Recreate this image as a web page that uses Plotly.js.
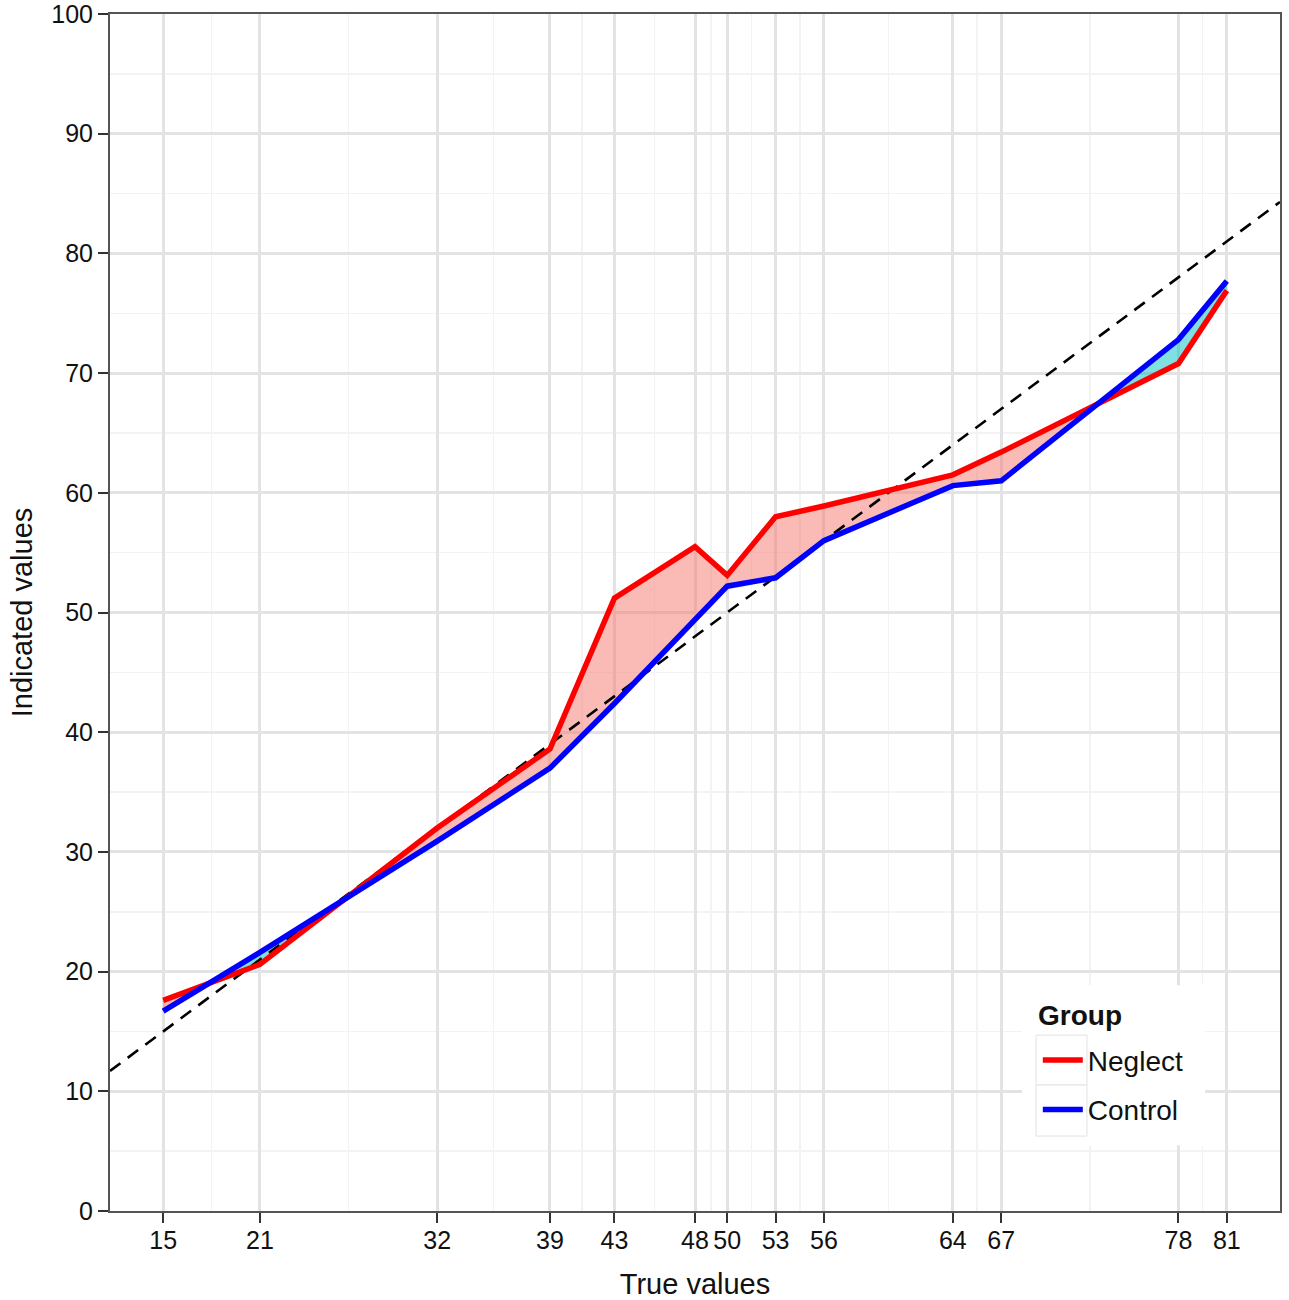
<!DOCTYPE html>
<html>
<head>
<meta charset="utf-8">
<script src="https://cdn.plot.ly/plotly-3.0.1.min.js"></script>
<style>html,body{margin:0;padding:0;background:#fff;}#chart{width:1289px;height:1300px;}</style>
</head>
<body>
<div id="chart"></div>
<script>
// ---- data ----
var trueValues = [15, 21, 32, 39, 43, 48, 50, 53, 56, 64, 67, 78, 81];
var neglect    = [17.6, 20.6, 32.0, 38.6, 51.2, 55.5, 53.1, 58.0, 58.9, 61.5, 63.4, 70.8, 76.9];
var control    = [16.7, 21.6, 30.9, 37.0, 42.4, 49.4, 52.2, 52.9, 56.0, 60.6, 61.0, 72.8, 77.7];
var xTickLabels = ["15","21","32","39","43","48","50","53","56","64","67","78","81"];
var yTicks = [0,10,20,30,40,50,60,70,80,90,100];
var seriesNames = ["Neglect", "Control"];
var legendTitle = "Group";

// ---- scales ----
var xSpan = trueValues[trueValues.length-1] - trueValues[0];
var xRange = [trueValues[0] - 0.05*xSpan, trueValues[trueValues.length-1] + 0.05*xSpan];
var yRange = [0, 100];

// minor breaks: midpoints between major breaks (ggplot style)
var xMinor = [];
for (var i = 0; i < trueValues.length-1; i++) xMinor.push((trueValues[i]+trueValues[i+1])/2);
var yMinor = [];
for (var j = 0; j < yTicks.length-1; j++) yMinor.push((yTicks[j]+yTicks[j+1])/2);

// ---- fill regions between the two series, split at crossings ----
function buildRegions(x, a, b) {
  var regions = [];
  var cur = null;
  function start(sign) { cur = {sign: sign, xs: [], top: [], bot: []}; }
  function push(xx, ya, yb) { cur.xs.push(xx); cur.top.push(ya); cur.bot.push(yb); }
  for (var i = 0; i < x.length; i++) {
    var d = a[i] - b[i];
    var s = d >= 0 ? 1 : -1;
    if (cur === null) { start(s); push(x[i], a[i], b[i]); continue; }
    if (s !== cur.sign) {
      var d0 = a[i-1] - b[i-1];
      var t = d0 / (d0 - d);
      var xc = x[i-1] + t*(x[i]-x[i-1]);
      var yc = a[i-1] + t*(a[i]-a[i-1]);
      push(xc, yc, yc);
      regions.push(cur);
      start(s);
      push(xc, yc, yc);
    }
    push(x[i], a[i], b[i]);
  }
  regions.push(cur);
  return regions;
}
var regions = buildRegions(trueValues, neglect, control);

var traces = [];
regions.forEach(function(r) {
  var px = r.xs.concat(r.xs.slice().reverse());
  var py = r.top.concat(r.bot.slice().reverse());
  traces.push({
    x: px, y: py, type: 'scatter', mode: 'lines', fill: 'toself',
    fillcolor: r.sign > 0 ? 'rgba(246,120,110,0.5)' : 'rgba(0,191,196,0.5)',
    line: {width: 0, color: 'rgba(0,0,0,0)'},
    showlegend: false, hoverinfo: 'skip'
  });
});

// identity line y = x across the panel
traces.push({
  x: [xRange[0], xRange[1]], y: [xRange[0], xRange[1]],
  type: 'scatter', mode: 'lines',
  line: {color: '#000', width: 2.6, dash: '13px,9px'},
  showlegend: false, hoverinfo: 'skip'
});

traces.push({
  x: trueValues, y: neglect, name: seriesNames[0], type: 'scatter', mode: 'lines',
  legendgroup: 'g1', line: {color: '#FF0000', width: 5.5}
});
traces.push({
  x: trueValues, y: control, name: seriesNames[1], type: 'scatter', mode: 'lines',
  legendgroup: 'g2', line: {color: '#0000FF', width: 5.5}
});

var fontFam = 'Liberation Sans, Arial, Helvetica, sans-serif';

// legend decoration (paper coords)
var shapes = [
  {type: 'rect', xref: 'paper', yref: 'paper', x0: 0.7795, x1: 0.936, y0: 0.055, y1: 0.1886,
   fillcolor: '#fff', line: {width: 0}, layer: 'above'},
  {type: 'rect', xref: 'paper', yref: 'paper', x0: 0.7915, x1: 0.8350, y0: 0.1052, y1: 0.1469,
   fillcolor: '#fff', line: {width: 1, color: '#e2e2e2'}, layer: 'above'},
  {type: 'rect', xref: 'paper', yref: 'paper', x0: 0.7915, x1: 0.8350, y0: 0.0626, y1: 0.1052,
   fillcolor: '#fff', line: {width: 1, color: '#e2e2e2'}, layer: 'above'}
];

var layout = {
  width: 1289, height: 1300,
  margin: {l: 110, r: 9, t: 14, b: 89, pad: 0},
  paper_bgcolor: '#fff', plot_bgcolor: '#fff',
  font: {family: fontFam, color: '#111', size: 25},
  showlegend: true,
  xaxis: {
    range: xRange, tickmode: 'array', tickvals: trueValues, ticktext: xTickLabels,
    showgrid: true, gridcolor: '#e3e3e3', gridwidth: 3,
    minor: {tickmode: 'array', tickvals: xMinor, showgrid: true, gridcolor: '#f3f3f3', gridwidth: 1.5, ticks: ''},
    zeroline: false, showline: true, mirror: true, linecolor: '#555', linewidth: 2,
    ticks: 'outside', ticklen: 10, tickwidth: 2, tickcolor: '#333',
    ticklabelstandoff: -4,
    tickfont: {size: 25, color: '#111', family: fontFam},
    title: {text: 'True values', font: {size: 29, color: '#111', family: fontFam}, standoff: 23}
  },
  yaxis: {
    range: yRange, tickmode: 'array', tickvals: yTicks,
    showgrid: true, gridcolor: '#e3e3e3', gridwidth: 3,
    minor: {tickmode: 'array', tickvals: yMinor, showgrid: true, gridcolor: '#f3f3f3', gridwidth: 1.5, ticks: ''},
    zeroline: false, showline: true, mirror: true, linecolor: '#555', linewidth: 2,
    ticks: 'outside', ticklen: 10, tickwidth: 2, tickcolor: '#333',
    ticklabeloverflow: 'allow',
    tickfont: {size: 25, color: '#111', family: fontFam},
    title: {text: 'Indicated values', font: {size: 29, color: '#111', family: fontFam}, standoff: 10}
  },
  legend: {
    x: 0.793, y: 0.1467, xanchor: 'left', yanchor: 'top',
    bgcolor: 'rgba(0,0,0,0)', borderwidth: 0,
    font: {size: 28, color: '#111', family: fontFam},
    tracegroupgap: 10,
    itemwidth: 40
  },
  annotations: [{
    text: '<b>' + legendTitle + '</b>', xref: 'paper', yref: 'paper',
    x: 0.7915, y: 0.1636, xanchor: 'left', yanchor: 'middle', showarrow: false,
    font: {size: 28, color: '#111', family: fontFam}
  }],
  shapes: shapes
};

Plotly.newPlot('chart', traces, layout, {displayModeBar: false, staticPlot: true});
</script>
</body>
</html>
